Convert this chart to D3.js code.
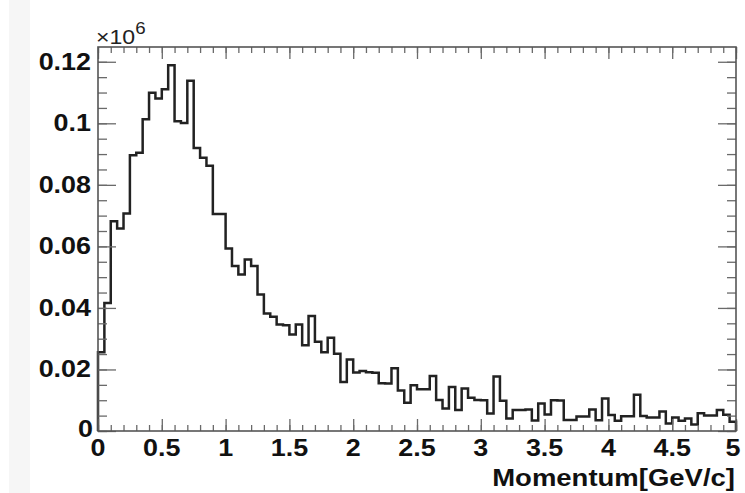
<!DOCTYPE html>
<html>
<head>
<meta charset="utf-8">
<script src="https://cdn.jsdelivr.net/npm/d3@7"></script>
<style>
  html, body { margin: 0; padding: 0; background: #ffffff; }
  svg { display: block; }
  text { font-family: "Liberation Sans", Arial, Helvetica, sans-serif; }
</style>
</head>
<body>
<svg id="chart" width="745" height="493"></svg>
<script>
// ---- data (bin contents in units of 10^6 entries, 100 bins of 0.05 GeV/c) ----
const binLow = 0;
const binWidth = 0.05;
const counts = [
  0.0256, 0.0416, 0.0682, 0.0658, 0.0707, 0.0896, 0.0904, 0.1013, 0.1099, 0.1081,
  0.1111, 0.1189, 0.1007, 0.1001, 0.1138, 0.0920, 0.0888, 0.0862, 0.0705, 0.0705,
  0.0593, 0.0536, 0.0509, 0.0557, 0.0536, 0.0444, 0.0382, 0.0371, 0.0346, 0.0344,
  0.0314, 0.0346, 0.0279, 0.0374, 0.0290, 0.0256, 0.0303, 0.0251, 0.0159, 0.0232,
  0.0190, 0.0195, 0.0191, 0.0189, 0.0155, 0.0154, 0.0204, 0.0132, 0.0092, 0.0149,
  0.0136, 0.0136, 0.0179, 0.0101, 0.0073, 0.0143, 0.0068, 0.0138, 0.0108, 0.0101,
  0.0100, 0.0057, 0.0177, 0.0098, 0.0041, 0.0068, 0.0068, 0.0070, 0.0034, 0.0089,
  0.0054, 0.0100, 0.0099, 0.0036, 0.0036, 0.0047, 0.0047, 0.0070, 0.0035, 0.0106,
  0.0052, 0.0033, 0.0048, 0.0048, 0.0118, 0.0049, 0.0044, 0.0044, 0.0063, 0.0024,
  0.0044, 0.0033, 0.0041, 0.0021, 0.0058, 0.0050, 0.0050, 0.0068, 0.0053, 0.0030
];
const xTickLabels = ["0", "0.5", "1", "1.5", "2", "2.5", "3", "3.5", "4", "4.5", "5"];
const yTickLabels = ["0", "0.02", "0.04", "0.06", "0.08", "0.1", "0.12"];
const xTitle = "Momentum[GeV/c]";
const yExponent = "6";

// ---- layout ----
const svg = d3.select("#chart");
const L = 98, R = 736, T = 47, B = 431;
const x = d3.scaleLinear().domain([0, 5]).range([L, R]);
const y = d3.scaleLinear().domain([0, 0.1248]).range([B, T]);
const sx = 1.17;
const tickColor = "#6a6a6a";

// faint left band as in the photo
svg.append("rect").attr("x", 9).attr("y", 0).attr("width", 21).attr("height", 493).attr("fill", "#f6f6f6");

// ---- histogram outline (step) ----
const pts = [[x(binLow), y(0)]];
counts.forEach((c, i) => {
  const x0 = binLow + i * binWidth, x1 = x0 + binWidth;
  pts.push([x(x0), y(c)]);
  pts.push([x(x1), y(c)]);
});
pts.push([x(binLow + counts.length * binWidth), y(0)]);
svg.append("path")
  .attr("d", d3.line()(pts))
  .attr("fill", "none")
  .attr("stroke", "#222")
  .attr("stroke-width", 2.5)
  .attr("stroke-linejoin", "miter");

// ---- axes via d3 axis generators ----
const xMajor = d3.range(0, 5.0001, 0.5);
const xMinor = d3.range(0, 5.0001, 0.1);
const yMajor = d3.range(0, 0.12001, 0.02);
const yMinor = d3.range(0, 0.1248, 0.005);

function styleAxis(g) {
  g.select(".domain").remove();
  g.selectAll("line").attr("stroke", tickColor).attr("stroke-width", 1.3);
  g.selectAll("text").remove();
}
// bottom
svg.append("g").attr("transform", `translate(0,${B})`)
  .call(d3.axisTop(x).tickValues(xMinor).tickSize(6)).call(styleAxis);
svg.append("g").attr("transform", `translate(0,${B})`)
  .call(d3.axisTop(x).tickValues(xMajor).tickSize(12)).call(styleAxis);
// top
svg.append("g").attr("transform", `translate(0,${T})`)
  .call(d3.axisBottom(x).tickValues(xMinor).tickSize(6)).call(styleAxis);
svg.append("g").attr("transform", `translate(0,${T})`)
  .call(d3.axisBottom(x).tickValues(xMajor).tickSize(12)).call(styleAxis);
// left
svg.append("g").attr("transform", `translate(${L},0)`)
  .call(d3.axisRight(y).tickValues(yMinor).tickSize(9)).call(styleAxis);
svg.append("g").attr("transform", `translate(${L},0)`)
  .call(d3.axisRight(y).tickValues(yMajor).tickSize(18)).call(styleAxis);
// right
svg.append("g").attr("transform", `translate(${R},0)`)
  .call(d3.axisLeft(y).tickValues(yMinor).tickSize(9)).call(styleAxis);
svg.append("g").attr("transform", `translate(${R},0)`)
  .call(d3.axisLeft(y).tickValues(yMajor).tickSize(18)).call(styleAxis);

// frame
svg.append("rect").attr("x", L).attr("y", T).attr("width", R - L).attr("height", B - T)
  .attr("fill", "none").attr("stroke", "#555").attr("stroke-width", 1.6);

// ---- labels ----
function label(txt, px, py, anchor, size, weight) {
  return svg.append("text")
    .attr("transform", `translate(${px},${py}) scale(${sx},1)`)
    .attr("text-anchor", anchor)
    .attr("font-size", size)
    .attr("font-weight", weight || "bold")
    .attr("fill", "#111")
    .text(txt);
}
// y tick labels
yTickLabels.forEach((t, i) => {
  const v = yMajor[i];
  const px = (t === "0") ? 93 : 91;
  const py = (t === "0") ? y(v) + 6 : y(v) + 8;
  label(t, px, py, "end", 23);
});
// x tick labels
xTickLabels.forEach((t, i) => {
  const v = xMajor[i];
  const px = (t === "5") ? x(v) - 3 : x(v);
  label(t, px, 456, "middle", 23);
});
// axis title
label(xTitle, 735, 486, "end", 23.5);

// exponent
const ex = svg.append("text")
  .attr("transform", `translate(96,44) scale(1.1,1)`)
  .attr("font-size", 21)
  .attr("fill", "#222");
ex.append("tspan").text("\u00d710");
ex.append("tspan").attr("dy", -10).attr("font-size", 17).text(yExponent);
</script>
</body>
</html>
